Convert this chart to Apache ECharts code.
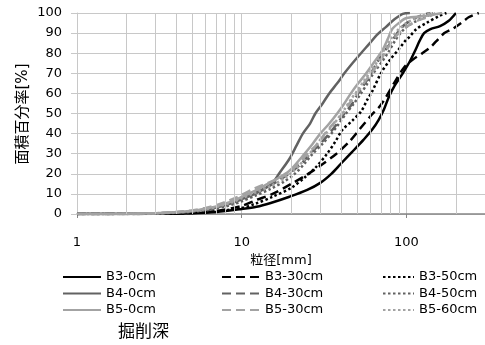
<!DOCTYPE html>
<html>
<head>
<meta charset="utf-8">
<script src="https://cdn.jsdelivr.net/npm/echarts/dist/echarts.min.js"></script>
<style>
  html, body { margin: 0; padding: 0; background: #fff; }
  #chart { width: 485px; height: 345px; }
</style>
</head>
<body>
<div id="chart"></div>
<script>
// particle size [mm] vs cumulative area percentage [%]
const b3_0 = [[1,0],[3,0.1],[5,0.4],[7,1],[10,2.5],[12.3,3.6],[15,5.5],[19.5,8.6],[25,12],[30,15.5],[35,20],[40,25],[47,31],[55,37],[62,42],[68,47],[73,52],[78,58],[85,64],[95,70],[105,76],[114,82],[120,86],[128,90],[140,92],[160,93.5],[180,96],[200,100]];
const b3_30 = [[1,0],[3,0.1],[5,0.5],[7,1.5],[10,4],[12.3,7],[15.4,10],[20,15],[24.7,19.4],[30,24],[37.6,30],[45,36],[53,43],[61,49],[68,53],[75,58],[84,65],[97,73],[110,77],[125,80],[140,83],[152,86],[170,90],[190,92],[215,95],[240,98],[275,100]];
const b3_50 = [[1,0],[3,0.1],[5,0.6],[7,1.5],[9.7,2.8],[12,5],[15.4,8.6],[20,13],[24,18],[28,23],[33,30],[37,36],[41,42],[47,46.5],[53,51],[58,57],[62,61],[70,70],[80,77],[90,82],[98,86],[104,88],[115,92],[132,95],[158,98.5],[175,100]];
const b4_0 = [[1,0],[2,0.1],[3,0.3],[4,0.7],[5,1.3],[6,2.2],[7,3.2],[8,4.4],[9,5.8],[10,7.3],[12,10],[14,13],[15.4,15.5],[17,20.5],[19.5,27.5],[21.5,34],[23.5,40],[26,45],[28,50],[31,55],[34,60],[38,65],[42,70],[47,75],[53,80],[60,85],[66,89],[75,93],[85,97],[95,99.6],[105,100]];
const b4_30 = [[1,0],[2,0.1],[3,0.3],[4,0.8],[5,1.4],[6,2.3],[7,3.4],[8,4.8],[9,6.2],[10,7.8],[12,10.5],[14,13],[17,17],[20,21],[23,25],[26,30],[30,35],[34,40],[38,45],[42,50],[47,55],[51,60],[56,65],[61,70],[66,75],[72,80],[80,85],[88,90],[97,94],[110,97],[125,99],[140,100]];
const b4_50 = [[1,0],[2,0.1],[3,0.3],[4,0.6],[5,1.1],[6,1.8],[7,2.7],[8,3.8],[9,5],[10,6.3],[12,9],[15,12.5],[18,16],[21,20],[24,25],[27,30],[31,35],[35,40],[39,45],[43,50],[48,55],[53,60],[58,65],[63,70],[70,75],[77,80],[85,86],[92,90],[100,93],[115,96],[130,98],[145,100]];
const b5_0 = [[1,0],[2,0.1],[3,0.4],[4,0.9],[5,1.6],[6,2.6],[7,3.8],[8,5.2],[9,6.8],[10,8.5],[12,11.5],[14,14.5],[16,17],[19.5,21.5],[23.5,29],[27,35],[30,40],[34,45],[38,50],[42,55],[46,60],[51,65],[57,70],[63,75],[71,81],[77,87],[82,92],[90,95],[100,97.5],[130,98.5],[165,100]];
const b5_30 = [[1,0],[2,0.1],[3,0.4],[4,1],[5,1.8],[6,3],[7,4.3],[8,6],[9,7.8],[10,9.5],[12,12.8],[14,15],[16,17],[19,20],[22,25],[25,30],[29,35],[32,40],[36,45],[41,50],[45,55],[50,60],[55,65],[61,70],[68,75],[75,81],[82,86],[90,90],[100,93],[115,96],[135,98],[150,100]];
const b5_60 = [[1,0],[2,0.1],[3,0.4],[4,0.9],[5,1.5],[6,2.4],[7,3.5],[8,4.8],[9,6.2],[10,7.8],[12,10.5],[15,14],[18,17.5],[21,22],[24,27],[27,32],[30,37],[34,42],[38,47],[42,52],[46,57],[51,62],[56,67],[62,72],[68,77],[75,83],[82,88],[90,92],[100,95],[120,98],[140,100]];

const minorGrid = [2,3,4,5,6,7,8,9,20,30,40,50,60,70,80,90,200];

const gridColor = '#c8c8c8';
const black = '#000000';
const dark = '#626262';
const light = '#a3a3a3';
const solid = 'solid';
const dash = [9, 5];
const dot = [2.5, 2.5];

const lines = [
  { name: 'B3-0cm',  data: b3_0,  color: black, type: solid },
  { name: 'B3-30cm', data: b3_30, color: black, type: dash },
  { name: 'B3-50cm', data: b3_50, color: black, type: dot },
  { name: 'B4-0cm',  data: b4_0,  color: dark,  type: solid },
  { name: 'B4-30cm', data: b4_30, color: dark,  type: dash },
  { name: 'B4-50cm', data: b4_50, color: dark,  type: dot },
  { name: 'B5-0cm',  data: b5_0,  color: light, type: solid },
  { name: 'B5-30cm', data: b5_30, color: light, type: dash },
  { name: 'B5-60cm', data: b5_60, color: light, type: dot }
];

const font = 'DejaVu Sans, Noto Sans CJK JP';

function legendCol(left, width, names) {
  return {
    orient: 'vertical',
    left: left,
    top: 265,
    itemWidth: width,
    itemHeight: 14,
    itemGap: 2.5,
    selectedMode: false,
    itemStyle: { opacity: 0 },
    textStyle: { fontFamily: font, fontSize: 13, color: '#000', lineHeight: 14 },
    data: names
  };
}

const chart = echarts.init(document.getElementById('chart'));
chart.setOption({
  animation: false,
  textStyle: { fontFamily: font },
  grid: { left: 77, right: 0, top: 13, bottom: 131 },
  title: {
    text: '掘削深',
    left: 113,
    top: 319,
    textStyle: { fontFamily: font, fontSize: 17, fontWeight: 'normal', color: '#000' }
  },
  graphic: [{
    type: 'text',
    x: 23,
    y: 114,
    rotation: Math.PI / 2,
    style: {
      text: '面積百分率[%]',
      fontFamily: font,
      fontSize: 15,
      fill: '#000',
      align: 'center',
      verticalAlign: 'middle'
    }
  }],
  legend: [
    legendCol(57, 38, ['B3-0cm', 'B4-0cm', 'B5-0cm']),
    legendCol(216, 38, ['B3-30cm', 'B4-30cm', 'B5-30cm']),
    legendCol(377, 31, ['B3-50cm', 'B4-50cm', 'B5-60cm'])
  ],
  xAxis: {
    type: 'log',
    logBase: 10,
    min: 1,
    max: 300,
    name: '粒径[mm]',
    nameLocation: 'middle',
    nameGap: 38,
    nameTextStyle: { fontFamily: font, fontSize: 13, color: '#000' },
    axisLine: { lineStyle: { color: '#868686', width: 1.5 } },
    axisTick: { length: 4, lineStyle: { color: '#868686' } },
    axisLabel: { fontSize: 13, color: '#000', margin: 22, showMaxLabel: false },
    splitLine: { show: true, lineStyle: { color: gridColor, width: 1 } }
  },
  yAxis: {
    type: 'value',
    min: 0,
    max: 100,
    interval: 10,
    axisLine: { show: true, lineStyle: { color: gridColor } },
    axisTick: { show: true, length: 6, lineStyle: { color: gridColor } },
    axisLabel: { fontSize: 13, color: '#000', margin: 15 },
    splitLine: { show: true, lineStyle: { color: gridColor, width: 1 } }
  },
  series: [
    {
      name: 'minor-grid',
      type: 'line',
      data: [],
      z: 1,
      silent: true,
      markLine: {
        silent: true,
        symbol: 'none',
        label: { show: false },
        lineStyle: { color: gridColor, width: 1, type: 'solid' },
        data: minorGrid.map(v => ({ xAxis: v }))
      }
    }
  ].concat(lines.map(s => ({
    name: s.name,
    type: 'line',
    data: s.data,
    z: 3,
    symbol: 'none',
    showSymbol: false,
    smooth: 0.3,
    color: s.color,
    lineStyle: { color: s.color, width: 2.5, type: s.type }
  })))
});
</script>
</body>
</html>
